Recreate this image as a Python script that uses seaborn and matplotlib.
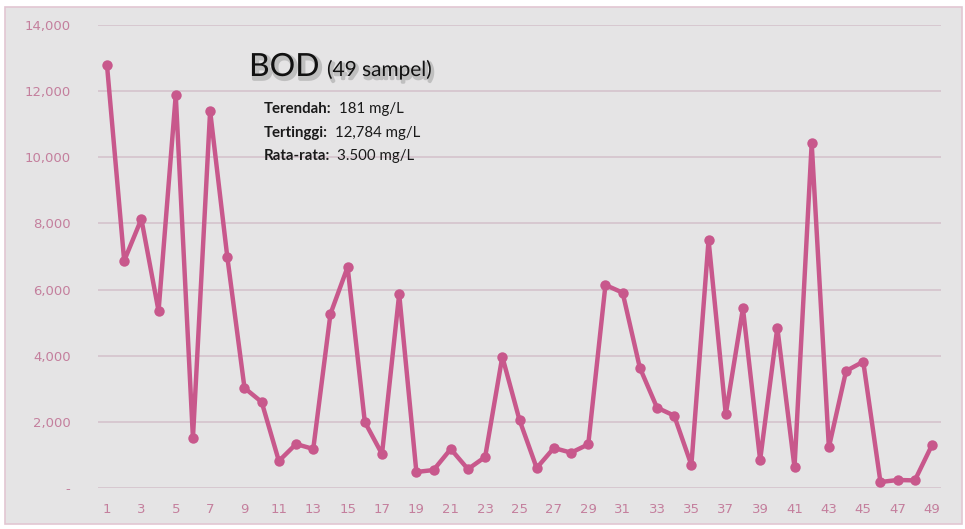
import matplotlib
matplotlib.use("Agg")
import matplotlib.pyplot as plt
import matplotlib.patheffects as pe
from matplotlib.patches import Rectangle
from matplotlib.ticker import FuncFormatter
import seaborn as sns
import pandas as pd

samples = list(range(1, 50))
bod = [12784, 6870, 8134, 5352, 11883, 1512, 11400, 6985, 3024, 2600,
       816, 1330, 1180, 5261, 6683, 1996, 1028, 5866, 484, 544,
       1180, 570, 937, 3970, 2056, 605, 1210, 1068, 1320, 6138,
       5906, 3638, 2430, 2187, 695, 7499, 2228, 5433, 847, 4848,
       625, 10423, 1230, 3538, 3820, 181, 242, 230, 1300]
xticks = list(range(1, 50, 2))
yticks = [0, 2000, 4000, 6000, 8000, 10000, 12000, 14000]

title_main = "BOD"
title_sub = "(49 sampel)"
stat_labels = ["Terendah:", "Tertinggi:", "Rata-rata:"]
stat_values = ["181 mg/L", "12,784 mg/L", "3.500 mg/L"]

df = pd.DataFrame({"sample": samples, "bod": bod})

sns.set_style("white", {"axes.facecolor": "#e5e4e5"})

W, H = 965, 529
fig = plt.figure(figsize=(W / 100, H / 100), dpi=100)
fig.patch.set_facecolor("white")

# outer frame
frame = Rectangle((5 / W, 1 - 524 / H), (962 - 5) / W, (524 - 7) / H,
                  transform=fig.transFigure, facecolor="#e5e4e5",
                  edgecolor="#e2c6d2", linewidth=1.2, zorder=-10)
fig.patches.append(frame)

ax = fig.add_axes([98.4 / W, 1 - 488 / H, (940.6 - 98.4) / W, (488 - 25) / H])
ax.set_facecolor("#e5e4e5")

line_color = "#c8588c"
sns.lineplot(data=df, x="sample", y="bod", ax=ax, color=line_color,
             linewidth=3.2, marker="o", markersize=7.5,
             markeredgecolor=line_color, markeredgewidth=0)

ax.set_xlim(0.5, 49.5)
ax.set_ylim(0, 14000)
ax.set_xticks(xticks)
ax.set_yticks(yticks)
ax.yaxis.set_major_formatter(FuncFormatter(lambda v, p: "-" if v == 0 else f"{int(v):,}"))
ax.grid(axis="y", color="#d6c6ce", linewidth=1.3)
ax.set_axisbelow(True)
for s in ax.spines.values():
    s.set_visible(False)
ax.tick_params(axis="both", length=0, labelcolor="#c47f9d", labelsize=9.5)
ax.tick_params(axis="y", pad=20)
ax.tick_params(axis="x", pad=11)
for lbl in ax.get_xticklabels() + ax.get_yticklabels():
    lbl.set_family("DejaVu Sans")
    lbl.set_fontsize(9.5)
ax.set_xlabel("")
ax.set_ylabel("")

font = ["Lato", "DejaVu Sans"]
fig.text(249 / W, 1 - 76 / H, title_main, fontsize=23, family=font,
         color="#111111", path_effects=[pe.SimpleLineShadow(offset=(1.5, -2), shadow_color="#888888", alpha=0.4, linewidth=3), pe.Normal()])
fig.text(327 / W, 1 - 76 / H, title_sub, fontsize=15, family=font,
         color="#111111", path_effects=[pe.SimpleLineShadow(offset=(1.5, -2), shadow_color="#888888", alpha=0.4, linewidth=2), pe.Normal()])

fig.canvas.draw()
renderer = fig.canvas.get_renderer()
gaps = [7, 7, 7]
for i, (lab, val) in enumerate(zip(stat_labels, stat_values)):
    yb = 1 - (113 + i * 23.5) / H
    t = fig.text(264 / W, yb, lab, fontsize=10.8, family=font, weight="bold", color="#1a1a1a")
    bb = t.get_window_extent(renderer)
    fig.text((bb.x1 + gaps[i]) / W, yb, val, fontsize=10.8, family=font, color="#1a1a1a")

fig.savefig("out.png", dpi=100, facecolor="white")
